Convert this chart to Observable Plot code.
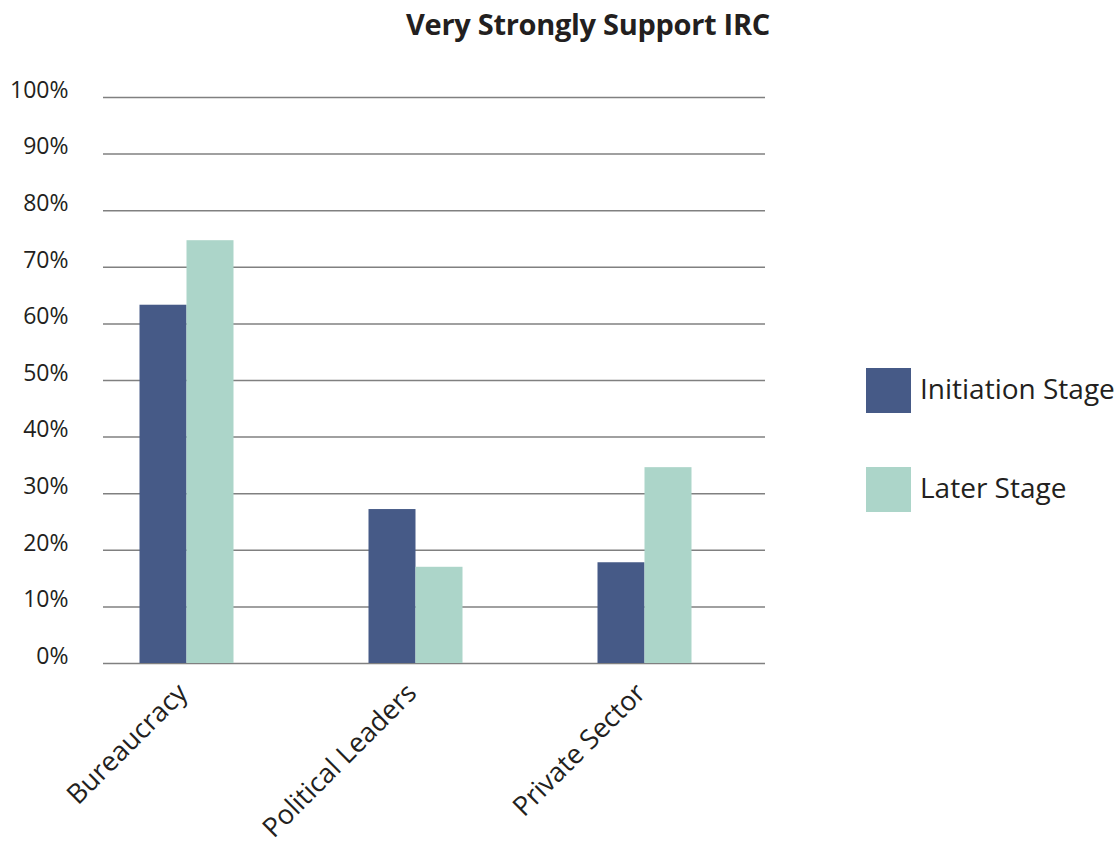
<!DOCTYPE html>
<html>
<head>
<meta charset="utf-8">
<script src="https://cdn.jsdelivr.net/npm/d3@7"></script>
<script src="https://cdn.jsdelivr.net/npm/@observablehq/plot@0.6"></script>
<style>
  html, body { margin: 0; padding: 0; background: #fff; }
  #page { position: relative; width: 1118px; height: 851px; overflow: hidden; font-family: "Open Sans", sans-serif; color: #231f20; }
  #title { position: absolute; top: 4px; left: 588px; transform: translateX(-50%); white-space: nowrap;
           font-size: 29px; font-weight: 700; letter-spacing: -0.3px; line-height: normal; }
  #chart { position: absolute; top: 60px; left: 0; }
  .key { position: absolute; left: 866px; display: flex; align-items: center; }
  .key .sw { width: 45px; height: 45px; }
  .key .lb { margin-left: 9px; margin-top: -4px; font-size: 28px; white-space: nowrap; line-height: 45px; }
</style>
</head>
<body>
<div id="page">
  <div id="title">Very Strongly Support IRC</div>
  <div id="chart"></div>
  <div id="legend"></div>
</div>
<script>
// Share of respondents who very strongly support IRC, by actor group and stage
const categories = ["Bureaucracy", "Political Leaders", "Private Sector"];
const stages = ["Initiation Stage", "Later Stage"];
const initiationValues = [63.3, 27.2, 17.8];
const laterValues = [74.7, 17.0, 34.6];
const yTicks = [0, 10, 20, 30, 40, 50, 60, 70, 80, 90, 100];
const colors = ["#465a87", "#acd5c9"];

const initiation = categories.map((c, i) => ({category: c, stage: stages[0], value: initiationValues[i]}));
const later = categories.map((c, i) => ({category: c, stage: stages[1], value: laterValues[i]}));

// each category band is 229px wide; the two bars sit side by side at its centre
const band = 229, barW = 47;
const half = band / 2;

const chart = Plot.plot({
  width: 790,
  height: 791,
  marginTop: 37,
  marginBottom: 188,
  marginLeft: 103,
  marginRight: 25,
  style: {fontFamily: "Open Sans, sans-serif", color: "#231f20", background: "transparent"},
  x: {domain: categories, range: [72, 759], padding: 0, label: null},
  y: {domain: [0, 100], label: null},
  color: {domain: stages, range: colors},
  marks: [
    Plot.gridY(yTicks, {stroke: "#808080", strokeOpacity: 1, strokeWidth: 1.5}),
    Plot.barY(initiation, {x: "category", y: "value", fill: "stage",
      insetLeft: half - barW, insetRight: half}),
    Plot.barY(later, {x: "category", y: "value", fill: "stage",
      insetLeft: half, insetRight: half - barW}),
    Plot.axisY({ticks: yTicks, tickFormat: d => d + "%", tickSize: 0, tickPadding: 35,
      dy: -7, fontSize: 23, textAnchor: "end"}),
    Plot.axisX({tickSize: 0, tickRotate: -45, tickPadding: 0, fontSize: 27,
      textAnchor: "end", lineAnchor: "middle", dx: -4, dy: 25})
  ]
});
document.getElementById("chart").appendChild(chart);

// legend to the right of the plot
const legend = document.getElementById("legend");
const keyTops = [368, 467];
stages.forEach((s, i) => {
  const row = document.createElement("div");
  row.className = "key";
  row.style.top = keyTops[i] + "px";
  row.innerHTML = `<div class="sw" style="background:${colors[i]}"></div><div class="lb">${s}</div>`;
  legend.appendChild(row);
});
</script>
</body>
</html>
